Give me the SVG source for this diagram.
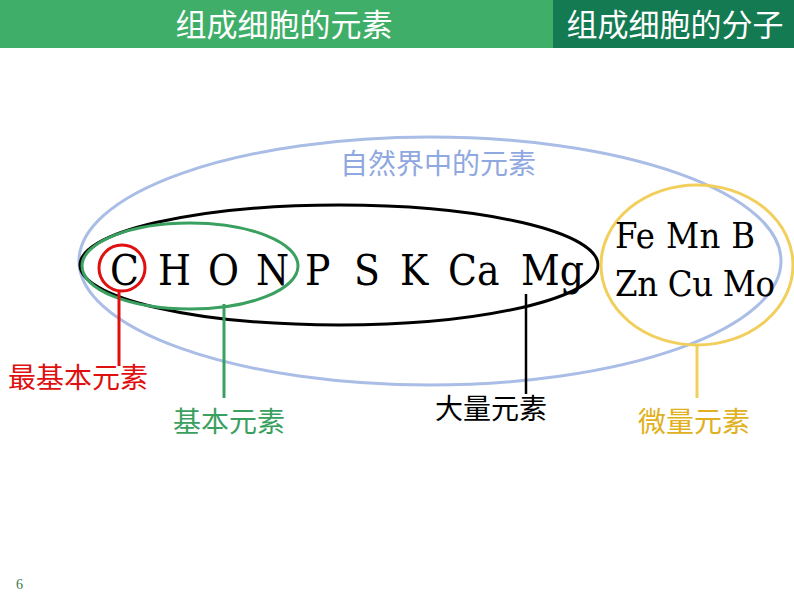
<svg xmlns="http://www.w3.org/2000/svg" width="794" height="596" viewBox="0 0 794 596">
<style>
.h{font-family:"Liberation Sans","Noto Sans CJK SC",sans-serif;font-size:31px;fill:#fff}
.el{font-family:"DejaVu Serif","Liberation Serif",serif;font-stretch:condensed;font-size:42px;fill:#000}
.sm{font-family:"DejaVu Serif","Liberation Serif",serif;font-stretch:condensed;font-size:36px;fill:#000}
.lb{font-family:"Liberation Sans","Noto Sans CJK SC",sans-serif;font-size:28px}
</style>
<rect width="794" height="596" fill="#fff"/>
<g id="header">
<rect x="0" y="0" width="553" height="48" fill="#3fae68"/>
<rect x="553" y="0" width="241" height="48" fill="#137a52"/>
<text class="h" x="284" y="36" text-anchor="middle">组成细胞的元素</text>
<text class="h" x="675" y="36" text-anchor="middle">组成细胞的分子</text>
</g>
<g id="nature">
<ellipse cx="430" cy="261" rx="351" ry="124" fill="none" stroke="#a9bde6" stroke-width="3"/>
<text class="lb" x="438" y="174" text-anchor="middle" fill="#8fa8e0">自然界中的元素</text>
</g>
<g id="macro">
<ellipse cx="339" cy="265" rx="259" ry="60" fill="none" stroke="#000" stroke-width="3"/>
<g class="el">
<text x="110" y="285">C</text><text x="158" y="285">H</text><text x="208" y="285">O</text><text x="256" y="285">N</text>
<text x="305" y="285">P</text><text x="354" y="285">S</text><text x="400" y="285">K</text><text x="448" y="285">Ca</text><text x="521" y="285">Mg</text>
</g>
</g>
<g id="basic"><ellipse cx="190" cy="266" rx="108" ry="43" fill="none" stroke="#3aa060" stroke-width="3"/></g>
<g id="core"><circle cx="122" cy="268" r="23" fill="none" stroke="#e01010" stroke-width="3"/></g>
<g id="trace">
<ellipse cx="697" cy="265" rx="96" ry="80" fill="none" stroke="#f2cf5c" stroke-width="3"/>
<text class="sm" x="615" y="248" textLength="140" lengthAdjust="spacing">Fe Mn B</text>
<text class="sm" x="615" y="296" textLength="160" lengthAdjust="spacing">Zn Cu Mo</text>
</g>
<g id="connectors" stroke-width="3">
<line x1="119" y1="290" x2="119" y2="366" stroke="#e01010"/>
<line x1="224" y1="304" x2="224" y2="398" stroke="#3aa060"/>
<line x1="526" y1="294" x2="526" y2="394" stroke="#000" stroke-width="2.5"/>
<line x1="697" y1="345" x2="697" y2="398" stroke="#f2cf5c"/>
</g>
<g id="labels">
<text class="lb" x="8" y="388" fill="#e01010">最基本元素</text>
<text class="lb" x="173" y="432" fill="#3aa060">基本元素</text>
<text class="lb" x="435" y="419" fill="#000">大量元素</text>
<text class="lb" x="638" y="432" fill="#e0b020">微量元素</text>
</g>
<text x="16" y="589" font-family="Liberation Serif,serif" font-size="14" fill="#3a7a50">6</text>
</svg>
